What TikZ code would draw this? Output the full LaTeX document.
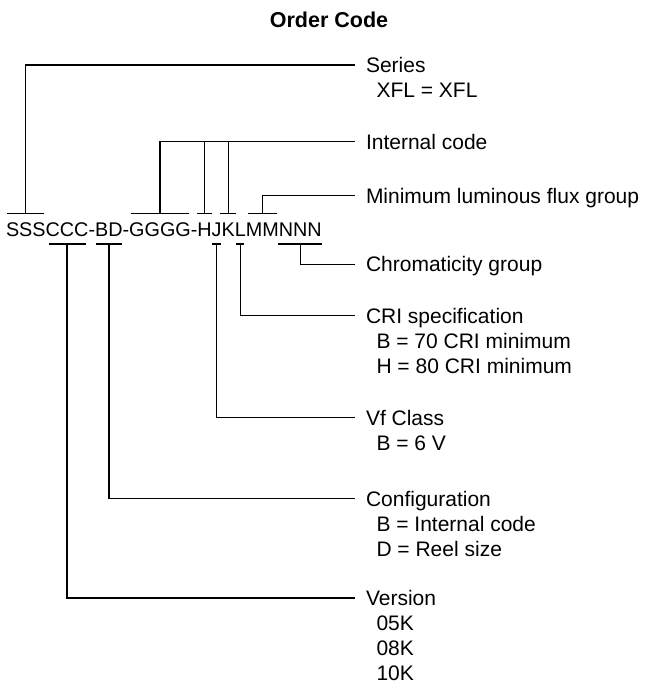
\documentclass[tikz,border=0pt]{standalone}
\usepackage{fontspec}
\setmainfont{Liberation Sans}
\usetikzlibrary{positioning}
\newcommand{\ind}{\hspace*{10.5pt}}
\newcommand{\lines}[1]{\begin{tabular}[t]{@{}l@{}}#1\end{tabular}}

\begin{document}
\begin{tikzpicture}
[x=1pt,y=1pt,line width=1.3pt,
 code/.style={inner sep=0pt,outer sep=0pt,text height=14.5pt,text depth=0pt,font=\fontsize{19.8}{24}\selectfont},
 label node/.style={inner sep=0pt,outer sep=0pt,anchor=base west,font=\fontsize{21}{25}\selectfont}]

  \useasboundingbox (0,0) rectangle (652,-685);
  \node (title) [anchor=base,font=\fontsize{21.5}{26}\selectfont\bfseries] at (329,-28) {Order Code};

  % the order code, one node per group of letters
  \node (sss) [code,anchor=base west] at (6,-236) {SSS};
  \node (ccc) [code,base right=0pt of sss] {CCC};
  \node (d1)  [code,base right=0pt of ccc] {-};
  \node (bd)  [code,base right=0pt of d1] {BD};
  \node (d2)  [code,base right=0pt of bd] {-};
  \node (ggg) [code,base right=0pt of d2] {GGGG};
  \node (d3)  [code,base right=0pt of ggg] {-};
  \node (h)   [code,base right=0pt of d3] {H};
  \node (j)   [code,base right=0pt of h] {J};
  \node (k)   [code,base right=0pt of j] {K};
  \node (l)   [code,base right=0pt of k] {L};
  \node (mm)  [code,base right=0pt of l] {MM};
  \node (nnn) [code,base right=0pt of mm] {NNN};

  % bars above and below the groups
  \foreach \n/\s in {sss/1.3,ggg/2,h/-0.5,k/-1.5,mm/1.8}{
    \draw ([xshift=\s pt,yshift=8.2pt]\n.north west) -- ([xshift=-\s pt,yshift=8.2pt]\n.north east);
    \coordinate (\n-t) at ([yshift=8.2pt]\n.north);
  }
  \foreach \n/\s in {ccc/3,bd/0.7,j/0.5,l/1.4,nnn/-0.5}{
    \draw ([xshift=\s pt,yshift=-8pt]\n.south west) -- ([xshift=-\s pt,yshift=-8pt]\n.south east);
    \coordinate (\n-b) at ([yshift=-8pt]\n.south);
  }

  % the labels
  \node (series)  [label node] at (366,-72.5) {\lines{Series\\\ind XFL = XFL}};
  \node (intcode) [label node] at (366,-149.2) {Internal code};
  \node (lumflux) [label node] at (366,-203.2) {Minimum luminous flux group};
  \node (chroma)  [label node] at (366,-271.8) {Chromaticity group};
  \node (cri)     [label node] at (366,-323.2) {\lines{CRI specification\\\ind B = 70 CRI minimum\\\ind H = 80 CRI minimum}};
  \node (vfclass) [label node] at (366,-425.2) {\lines{Vf Class\\\ind B = 6 V}};
  \node (config)  [label node] at (366,-506.2) {\lines{Configuration\\\ind B = Internal code\\\ind D = Reel size}};
  \node (version) [label node] at (366,-605.5) {\lines{Version\\\ind 05K\\\ind 08K\\\ind 10K}};
  \foreach \n in {series,intcode,lumflux,chroma,cri,vfclass,config,version}
    \coordinate (\n-in) at ([xshift=-11pt,yshift=7.5pt]\n.base west);

  % connectors
  \draw (sss-t) |- (series-in);
  \draw (ggg-t) |- (intcode-in);
  \draw (h-t) -- (h-t |- intcode-in);
  \draw (k-t) -- (k-t |- intcode-in);
  \draw (mm-t) |- (lumflux-in);
  \draw (nnn-b) |- (chroma-in);
  \draw (l-b) |- (cri-in);
  \draw (j-b) |- (vfclass-in);
  \draw (bd-b) |- (config-in);
  \draw (ccc-b) |- (version-in);

\end{tikzpicture}
\end{document}
